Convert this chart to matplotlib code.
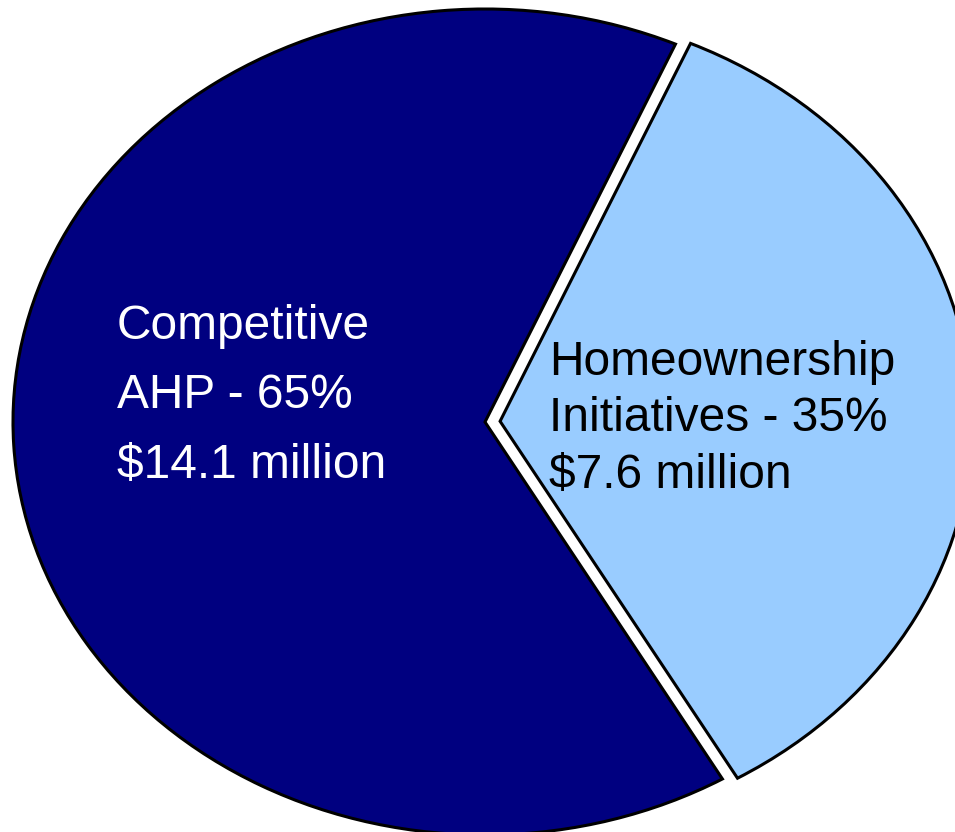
import matplotlib
matplotlib.use("Agg")
import matplotlib.pyplot as plt

# données
categories = ["Competitive AHP", "Homeownership Initiatives"]
shares = [65, 35]
amounts = [14.1, 7.6]
colors = ["#000080", "#99CCFF"]

# lignes de texte pour chaque part
left_lines = ["Competitive", "AHP - %d%%" % shares[0], "$%.1f million" % amounts[0]]
right_lines = ["Homeownership", "Initiatives - %d%%" % shares[1], "$%.1f million" % amounts[1]]

W, H = 955, 832
fig = plt.figure(figsize=(W / 100, H / 100), dpi=100)
ax = fig.add_axes([0, 0, 1, 1])

ax.pie(shares, colors=colors, startangle=66.2, counterclock=True,
       explode=[0, 0.032],
       wedgeprops=dict(edgecolor="black", linewidth=2.2, joinstyle="miter"))

# pie elliptique (centre ~ (485, 422) px, rayons 472 x 413 px)
cx, cy, rx, ry = 485, 422, 472, 413
ax.set_aspect("auto")
ax.set_xlim(-cx / rx, (W - cx) / rx)
ax.set_ylim(-(H - cy) / ry, cy / ry)
ax.axis("off")

# textes, ligne par ligne
for txt, yb in zip(left_lines, [339, 408, 478]):
    fig.text(117 / W, 1 - yb / H, txt, color="white", fontsize=34.5,
             family="Liberation Sans", va="baseline", ha="left")
for txt, yb in zip(right_lines, [375, 431, 488]):
    fig.text(549 / W, 1 - yb / H, txt, color="black", fontsize=34.5,
             family="Liberation Sans", va="baseline", ha="left")

fig.savefig("out.png", dpi=100)
